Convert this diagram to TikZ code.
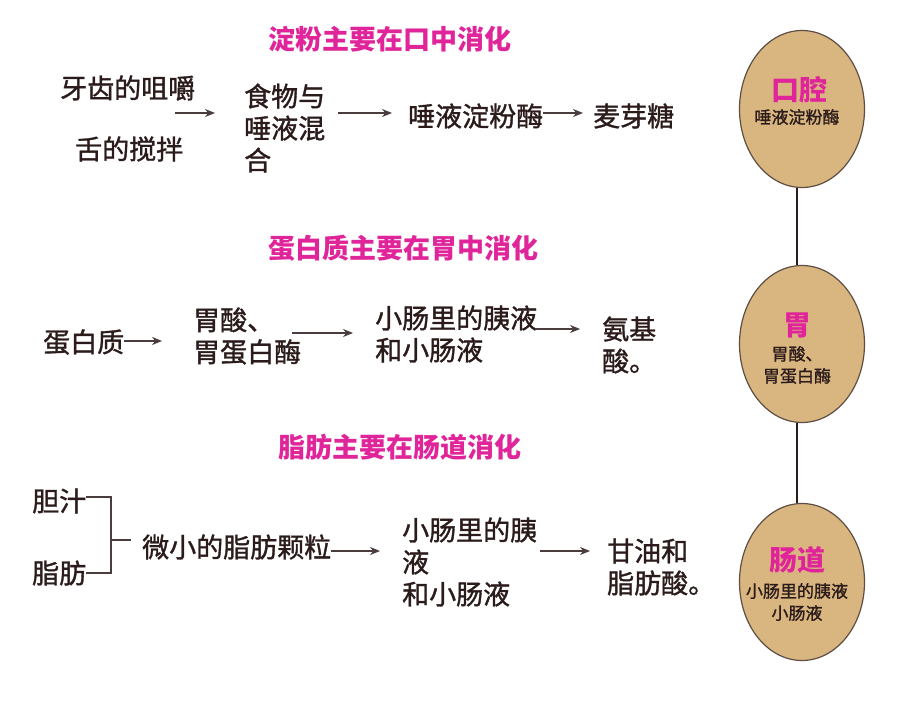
\documentclass[tikz,border=0pt]{standalone}
\usepackage{fontspec}
\newfontfamily\cjk{Noto Sans CJK SC}
\newfontfamily\cjkh[FakeBold=1.2]{Noto Sans CJK SC}
\usetikzlibrary{arrows.meta,shapes.geometric}
\definecolor{pinkt}{HTML}{E0259A}
\definecolor{inkt}{HTML}{2B1B1B}
\definecolor{tanf}{HTML}{D9B67F}
\definecolor{edgec}{HTML}{5E4E44}
\tikzset{
  body/.style={inner sep=0pt, anchor=west, align=left, text=inkt, font=\cjkh\fontsize{27}{32}\selectfont},
  ttl/.style={inner sep=0pt, anchor=west, text=pinkt, font=\cjk\bfseries\fontsize{27}{30}\selectfont},
  arr/.style={draw=inkt!85, line width=1.3pt, -{Stealth[length=10pt,width=8pt]}},
  brk/.style={draw=inkt!85, line width=1.3pt},
  organ/.style={ellipse, draw=edgec, line width=1.2pt, fill=tanf, minimum width=125pt, minimum height=157pt, inner sep=0pt},
  otitle/.style={text=pinkt, font=\cjk\bfseries\fontsize{28}{30}\selectfont},
  osmall/.style={text=inkt, align=center, font=\cjkh\fontsize{17}{22}\selectfont},
}
\begin{document}
\begin{tikzpicture}[x=1pt,y=-1pt]
\useasboundingbox[fill=white] (0,0) rectangle (900,722);
% titles
\node[ttl] (t1) at (268,39) {淀粉主要在口中消化};
\node[ttl] (t2) at (268,248) {蛋白质主要在胃中消化};
\node[ttl] (t3) at (278,447) {脂肪主要在肠道消化};
% row 1
\node[body] (a1) at (60,88) {牙齿的咀嚼};
\node[body] (a2) at (75,149) {舌的搅拌};
\coordinate (a0) at (175,113);
\node[body] (b1) at (244,128) {食物与\\唾液混\\合};
\node[body] (c1) at (408,116) {唾液淀粉酶};
\node[body] (d1) at (593,116) {麦芽糖};
\draw[arr] (a0) -- (215,113);
\draw[arr] (338,113) -- (392,113);
\draw[arr] (c1.east |- 0,113) -- (583,113);
% row 2
\node[body] (e2) at (43,342) {蛋白质};
\node[body] (f2) at (193,336) {胃酸、\\胃蛋白酶};
\node[body] (g2) at (375,334) {小肠里的胰液\\和小肠液};
\node[body] (h2) at (602,345) {氨基\\酸。};
\draw[arr] (e2.east |- 0,341) -- (162,341);
\draw[arr] (292,333) -- (353,333);
\draw[arr] (535,329) -- (580,329);
% row 3
\node[body] (i3) at (32,501) {胆汁};
\node[body] (j3) at (32,573) {脂肪};
\coordinate (kb) at (111,540);
\node[body] (k3) at (142,547) {微小的脂肪颗粒};
\node[body] (l3) at (402,562) {小肠里的胰\\液\\和小肠液};
\node[body] (m3) at (607,567) {甘油和\\脂肪酸。};
\draw[brk] (i3.east |- 0,497) -- (111,497) -- (111,573) -- (j3.east |- 0,573);
\draw[brk] (kb) -- (131,540);
\draw[arr] (k3.east |- 0,551) -- (380,551);
\draw[arr] (540,551) -- (590,551);
% organs
\node[organ] (o1) at (802,109) {};
\node[organ] (o2) at (802,344) {};
\node[organ] (o3) at (802,582) {};
\draw[draw=inkt, line width=1.5pt] (o1.south -| 797,0) -- (o2.north -| 797,0);
\draw[draw=inkt, line width=1.5pt] (o2.south -| 797,0) -- (o3.north -| 797,0);
\node[otitle] (p1) at (799,90) {口腔};
\node[osmall] (q1) at (797,117) {唾液淀粉酶};
\node[otitle] (p2) at (797,325) {胃};
\node[osmall, align=center] (q2) at (797,365) {胃酸、\\胃蛋白酶};
\node[otitle] (p3) at (797,560) {肠道};
\node[osmall] (q3) at (797,602) {小肠里的胰液\\小肠液};
\end{tikzpicture}
\end{document}
